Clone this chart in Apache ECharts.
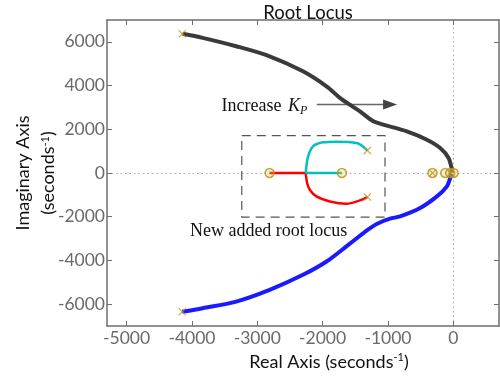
<!DOCTYPE html>
<html><head><meta charset="utf-8">
<script src="https://cdn.jsdelivr.net/npm/echarts@6/dist/echarts.min.js"></script>
<style>html,body{margin:0;padding:0;background:#fff}#c{width:500px;height:377px}</style>
</head><body><div id="c"></div>
<script>
// ---- data (real, imaginary) ----
const xTicks = [-5000, -4000, -3000, -2000, -1000, 0];
const yTicks = [-6000, -4000, -2000, 0, 2000, 4000, 6000];
const upperBranch = [[-4143,6367],[-3836,6184],[-3323,5800],[-2811,5341],[-2300,4654],[-1940,3967],[-1736,3440],[-1560,3080],[-1429,2820],[-1224,2364],[-1071,2213],[-711,1906],[-404,1525],[-200,1145],[-72,687],[-20,151],[-15,20]];
const lowerBranch = [[-4147,-6350],[-3836,-6184],[-3323,-5882],[-2811,-5346],[-2300,-4659],[-1940,-4050],[-1582,-3230],[-1300,-2580],[-1172,-2330],[-968,-2090],[-814,-1988],[-507,-1603],[-250,-1072],[-97,-614],[-46,-229],[-20,-30]];
const redAxisPart = [[-2811,0],[-2258,0]];
const redCurve = [[-2258,0],[-2237,-458],[-2197,-765],[-2094,-1072],[-1889,-1300],[-1638,-1406],[-1429,-1255],[-1315,-1100]];
const cyanAxisPart = [[-1705,0],[-2258,0]];
const cyanCurve = [[-2258,0],[-2248,302],[-2222,760],[-2146,1218],[-1992,1402],[-1787,1434],[-1480,1374],[-1315,1035]];
const poles = [[-4147,6370],[-4147,-6350],[-1315,1035],[-1315,-1100],[-318,0],[-40,0]];
const zeros = [[-2811,0],[-1705,0],[-318,0],[-123,0],[-46,0],[5,0]];
// annotations (data coordinates)
const boxCorners = [[-3237,1709],[-1045,-2016]];
const arrowFromTo = [[-2089,3129],[-860,3129]];
const increaseLabelAt = [-3548,3040];
const newLabelAt = [-2826,-2643];

const axisColor = '#6e6e6e';
const fontSans = 'Lato, "Open Sans", sans-serif';
const chart = echarts.init(document.getElementById('c'));
const plain = v => String(v);
const xCommon = {type:'value', min:-5300, max:700, splitLine:{show:false},
  axisLine:{show:true, onZero:false, lineStyle:{color:axisColor, width:1.5}}};
const yCommon = {type:'value', min:-7000, max:7000, splitLine:{show:false},
  axisLine:{show:true, onZero:false, lineStyle:{color:axisColor, width:1.5}}};
const xPath = 'path://M0,1L1,0L5,4L9,0L10,1L6,5L10,9L9,10L5,6L1,10L0,9L4,5Z';
const mk = '#b8921e';
chart.setOption({
  animation:false,
  title:{text:'Root Locus', left:303, top:-1, textAlign:'center',
    textStyle:{fontFamily:fontSans, fontSize:18.5, fontWeight:'normal', color:'#111'}},
  grid:{left:107, right:1, top:20, bottom:51},
  xAxis:[
    Object.assign({}, xCommon, {position:'bottom',
      axisTick:{show:true, inside:true, length:5, customValues:xTicks, lineStyle:{color:axisColor}},
      axisLabel:{customValues:xTicks, formatter:plain, margin:3, color:'#6a6a6a', fontFamily:fontSans, fontSize:17.5},
      name:'Real Axis (seconds{s|-1})', nameLocation:'middle', nameGap:25,
      nameTextStyle:{fontFamily:fontSans, fontSize:18, color:'#111', padding:[0,0,0,52],
        rich:{s:{fontSize:11, verticalAlign:'top', padding:[0,0,10,0], fontFamily:fontSans, color:'#111'}}}}),
    Object.assign({}, xCommon, {position:'top',
      axisTick:{show:true, inside:true, length:5, customValues:xTicks, lineStyle:{color:axisColor}},
      axisLabel:{show:false}})
  ],
  yAxis:[
    Object.assign({}, yCommon, {position:'left',
      axisTick:{show:true, inside:true, length:5, customValues:yTicks, lineStyle:{color:axisColor}},
      axisLabel:{customValues:yTicks, formatter:plain, margin:2, color:'#6a6a6a', fontFamily:fontSans, fontSize:17.5}}),
    Object.assign({}, yCommon, {position:'right',
      axisTick:{show:true, inside:true, length:5, customValues:yTicks, lineStyle:{color:axisColor}},
      axisLabel:{show:false}})
  ],
  series:[
    {type:'line', data:[], silent:true, z:0, zlevel:0,
      markLine:{silent:true, z:0, symbol:'none', label:{show:false},
        lineStyle:{color:'#aaa', type:[1.5,3], width:1},
        data:[{yAxis:0},{xAxis:0}]}},
    {type:'line', z:5, data:lowerBranch, smooth:0.3, symbol:'none', lineStyle:{color:'#1a1aff', width:4}},
    {type:'line', z:5, data:upperBranch, smooth:0.3, symbol:'none', lineStyle:{color:'#3a3a3a', width:4}},
    {type:'line', z:5, data:redAxisPart, symbol:'none', lineStyle:{color:'#ff0000', width:2.5}},
    {type:'line', z:5, data:redCurve, smooth:0.35, symbol:'none', lineStyle:{color:'#ff0000', width:2.5}},
    {type:'line', z:5, data:cyanAxisPart, symbol:'none', lineStyle:{color:'#00c0c0', width:2.5}},
    {type:'line', z:5, data:cyanCurve, smooth:0.35, symbol:'none', lineStyle:{color:'#00c0c0', width:2.5}},
    {type:'scatter', z:6, data:zeros, symbol:'circle', symbolSize:9,
      itemStyle:{color:'rgba(230,200,60,0.35)', borderColor:mk, borderWidth:1.6}},
    {type:'scatter', z:7, data:poles, symbol:xPath, symbolSize:8, itemStyle:{color:mk}}
  ]
});

function px(p){ return chart.convertToPixel({gridIndex:0}, p); }
const b0 = px(boxCorners[0]), b1 = px(boxCorners[1]);
const a0 = px(arrowFromTo[0]), a1 = px(arrowFromTo[1]);
const inc = px(increaseLabelAt), nw = px(newLabelAt);
const serif = '"Liberation Serif", "DejaVu Serif", serif';
chart.setOption({graphic:[
  {type:'rect', shape:{x:b0[0], y:b0[1], width:b1[0]-b0[0], height:b1[1]-b0[1]},
    style:{fill:'none', stroke:'#555', lineWidth:1.2, lineDash:[9,6]}},
  {type:'line', shape:{x1:a0[0], y1:a0[1], x2:a1[0]-12, y2:a1[1]}, style:{stroke:'#666', lineWidth:1.5}},
  {type:'polygon', shape:{points:[[a1[0],a1[1]],[a1[0]-14,a1[1]-5],[a1[0]-14,a1[1]+5]]}, style:{fill:'#444'}},
  {type:'text', x:inc[0], y:inc[1], style:{text:'{a|Increase}  {k|K}{p|P}', verticalAlign:'middle',
    rich:{a:{fontFamily:serif, fontSize:18, fill:'#111'},
          k:{fontFamily:serif, fontSize:18, fontStyle:'italic', fill:'#111'},
          p:{fontFamily:serif, fontSize:12, fontStyle:'italic', fill:'#111', padding:[8,0,0,0]}}}},
  {type:'text', x:nw[0], y:nw[1], style:{text:'New added root locus', align:'center', verticalAlign:'middle',
    fontFamily:serif, fontSize:18, fill:'#111'}},
  {type:'text', x:23, y:173, rotation:Math.PI/2, style:{text:'Imaginary Axis', align:'center', verticalAlign:'middle',
    fontFamily:fontSans, fontSize:18, fill:'#111'}},
  {type:'text', x:48, y:173, rotation:Math.PI/2, style:{text:'(seconds{s|-1})', align:'center', verticalAlign:'middle',
    fontFamily:fontSans, fontSize:18, fill:'#111',
    rich:{s:{fontFamily:fontSans, fontSize:11, fill:'#111', padding:[0,0,6,0]}}}}
]});
</script></body></html>
